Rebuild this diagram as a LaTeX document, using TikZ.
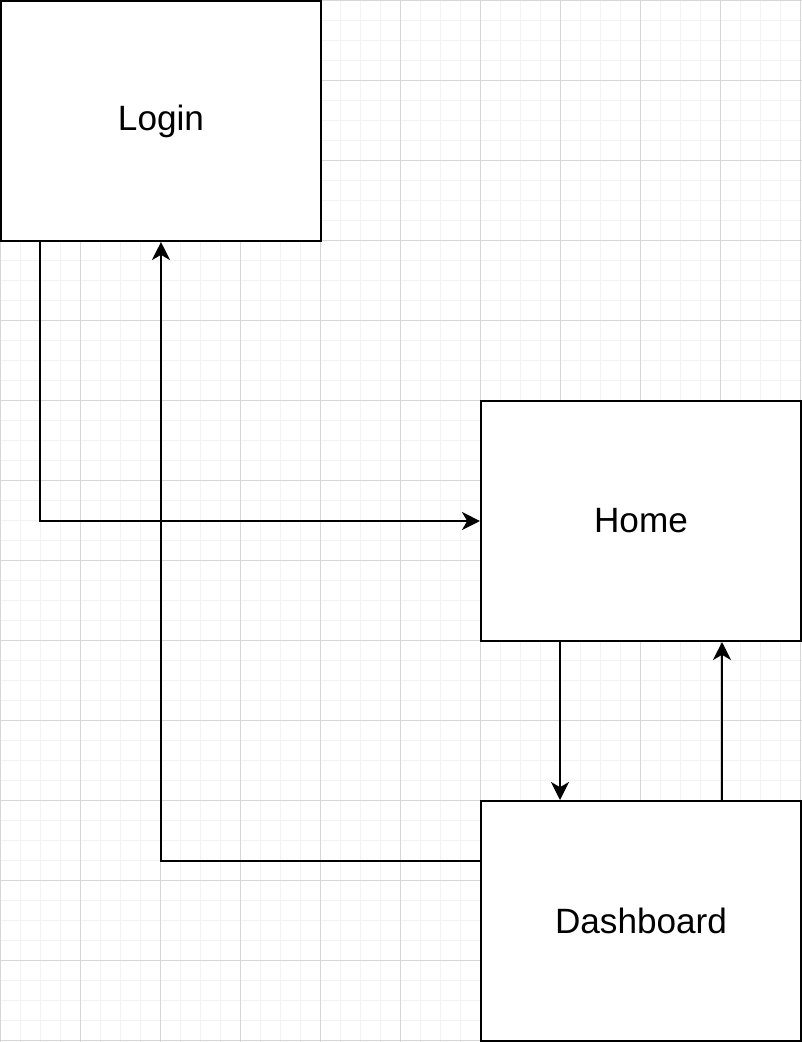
\documentclass[tikz,border=0pt]{standalone}
\usepackage{fontspec}
\setmainfont{Liberation Sans}
\usepackage{tikz}
\usetikzlibrary{arrows.meta}
\definecolor{gridminor}{HTML}{F2F2F2}
\definecolor{gridmajor}{HTML}{D6D6D6}

\begin{document}
\begin{tikzpicture}[x=0.025cm, y=-0.025cm,
        page/.style={rectangle, draw, fill=white, line width=1.4pt, minimum width=8cm, minimum height=6cm, font=\fontsize{25}{30}\selectfont},
        conn/.style={line width=1.4pt, -{Stealth[length=0.45cm, width=0.45cm, inset=0.13cm]}}]
        \useasboundingbox (0,0) rectangle (802,1042);
        \fill[white] (0,0) rectangle (802,1042);
        \draw[gridminor, line width=0.7pt] (0,0) grid[step=0.5cm] (802,1042);
        \draw[gridmajor, line width=0.7pt] (0,0) grid[step=2cm] (802,1042);
        \node[page] (login) at (161,121) {Login};
        \node[page] (home) at (641,521) {Home};
        \node[page] (dash) at (641,921) {Dashboard};
        \draw[conn] ([xshift=1cm]login.south west) |- (home.west);
        \draw[conn] ([yshift=1.5cm]dash.west) -| (login.south);
        \draw[conn] ([xshift=2cm]home.south west) -- ([xshift=2cm]dash.north west);
        \draw[conn] ([xshift=-2cm]dash.north east) -- ([xshift=-2cm]home.south east);
    \end{tikzpicture}
\end{document}
